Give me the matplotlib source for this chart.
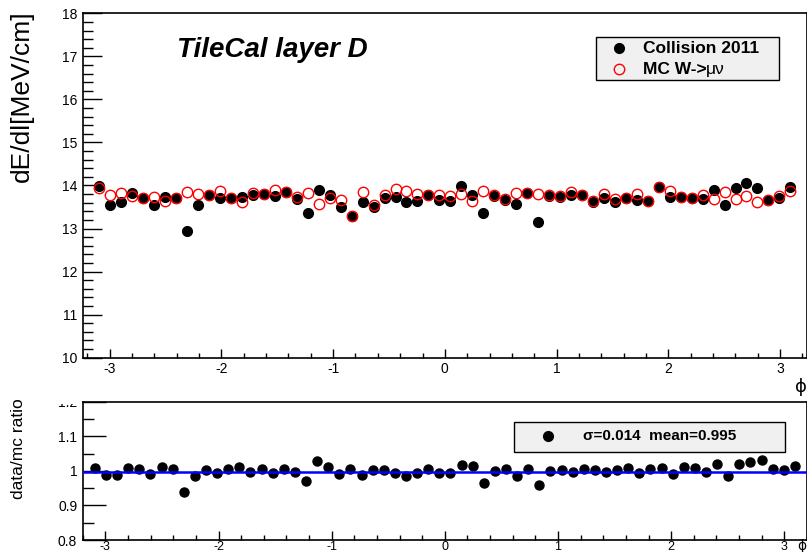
import matplotlib
matplotlib.use("Agg")
import numpy as np
import matplotlib.pyplot as plt
from matplotlib.patches import Rectangle
from matplotlib.ticker import MultipleLocator

plt.rcParams['font.family'] = ['Liberation Sans', 'DejaVu Sans']
plt.rcParams['axes.unicode_minus'] = False

# ======================
# data: 64 TileCal modules in phi
# ======================
n_modules = 64
phi = -np.pi + (np.arange(n_modules) + 0.5) * 2 * np.pi / n_modules

collision_2011 = [13.98, 13.55, 13.61, 13.82, 13.71, 13.54, 13.74, 13.71, 12.94, 13.54,
                  13.79, 13.70, 13.70, 13.74, 13.79, 13.80, 13.75, 13.84, 13.69, 13.36,
                  13.90, 13.78, 13.51, 13.28, 13.62, 13.51, 13.70, 13.74, 13.62, 13.65,
                  13.78, 13.67, 13.65, 13.99, 13.78, 13.37, 13.75, 13.67, 13.57, 13.82,
                  13.16, 13.75, 13.74, 13.78, 13.78, 13.61, 13.70, 13.62, 13.71, 13.67,
                  13.65, 13.96, 13.74, 13.74, 13.71, 13.69, 13.90, 13.55, 13.94, 14.06,
                  13.94, 13.67, 13.70, 13.96]

mc_wmunu = [13.95, 13.78, 13.82, 13.75, 13.71, 13.74, 13.65, 13.71, 13.84, 13.81,
            13.79, 13.87, 13.71, 13.62, 13.82, 13.80, 13.90, 13.84, 13.74, 13.82,
            13.57, 13.70, 13.67, 13.28, 13.84, 13.54, 13.78, 13.91, 13.87, 13.80,
            13.78, 13.78, 13.75, 13.80, 13.65, 13.88, 13.78, 13.69, 13.82, 13.82,
            13.80, 13.78, 13.75, 13.84, 13.78, 13.63, 13.80, 13.69, 13.72, 13.80,
            13.65, 13.96, 13.88, 13.74, 13.71, 13.78, 13.69, 13.84, 13.69, 13.76,
            13.61, 13.67, 13.76, 13.87]

ratio = [1.008, 0.988, 0.988, 1.008, 1.005, 0.990, 1.012, 1.006, 0.939, 0.984,
         1.003, 0.993, 1.006, 1.011, 0.997, 1.006, 0.993, 1.005, 0.997, 0.971,
         1.029, 1.012, 0.990, 1.005, 0.988, 1.002, 1.002, 0.993, 0.986, 0.993,
         1.005, 0.995, 0.995, 1.017, 1.013, 0.966, 1.000, 1.005, 0.986, 1.005,
         0.959, 1.000, 1.003, 0.997, 1.005, 1.002, 0.997, 1.002, 1.007, 0.995,
         1.005, 1.008, 0.992, 1.010, 1.007, 0.997, 1.021, 0.984, 1.021, 1.027,
         1.031, 1.005, 1.002, 1.015]
ratio_err = [0.008] * n_modules
fit_level = 0.997
sigma_txt = "σ=0.014  mean=0.995"

# ======================
# figure
# ======================
fig = plt.figure(figsize=(8.07, 5.52), dpi=100)
ax1 = fig.add_axes([0.1025, 0.352, 0.8975, 0.6239])
ax2 = fig.add_axes([0.1025, 0.0217, 0.8975, 0.2506])

# top panel
ax1.plot(phi, collision_2011, 'o', color='black', markersize=7, zorder=3)
ax1.plot(phi, mc_wmunu, 'o', markerfacecolor='none', markeredgecolor='red',
         markeredgewidth=1.0, markersize=7.5, zorder=4)
ax1.set_xlim(-np.pi - 0.1, np.pi + 0.1)
ax1.set_ylim(10, 18)
ax1.xaxis.set_major_locator(MultipleLocator(1))
ax1.xaxis.set_minor_locator(MultipleLocator(0.2))
ax1.yaxis.set_major_locator(MultipleLocator(1))
ax1.yaxis.set_minor_locator(MultipleLocator(0.2))
ax1.tick_params(axis='both', which='both', direction='in', top=False, right=False,
                labelsize=10, width=1)
ax1.tick_params(axis='y', which='major', length=14, pad=4)
ax1.tick_params(axis='y', which='minor', length=7)
ax1.tick_params(axis='x', which='major', length=6.5, pad=3)
ax1.tick_params(axis='x', which='minor', length=3.3)
for s in ax1.spines.values():
    s.set_linewidth(1.2)
ax1.text(0.9917, -0.085, "ϕ", transform=ax1.transAxes, fontsize=13,
         ha='center', va='center', family=['DejaVu Sans'])
ax1.text(0.130, 0.893, "TileCal layer D", transform=ax1.transAxes, fontsize=20,
         fontweight='bold', fontstyle='italic', ha='left', va='center')

# axis titles, ROOT style: aligned to the top end of the axis
fig.text(22 / 807, 1 - 10 / 552, "dE/dl[MeV/cm]", rotation=90, fontsize=19,
         ha='center', va='top')
fig.text(19 / 807, 1 - 398 / 552, "data/mc ratio", rotation=90, fontsize=12.5,
         ha='center', va='top')

# top legend
ax1.add_patch(Rectangle((0.7087, 0.806), 0.2526, 0.125, transform=ax1.transAxes,
                        facecolor='#f0f0f0', edgecolor='black', linewidth=1.0, zorder=5))
ax1.plot([0.7398], [0.899], 'o', color='black', markersize=7, transform=ax1.transAxes, zorder=6)
ax1.plot([0.7398], [0.838], 'o', markerfacecolor='none', markeredgecolor='red',
         markersize=7.5, transform=ax1.transAxes, zorder=6)
ax1.text(0.773, 0.899, "Collision 2011", transform=ax1.transAxes, fontsize=12.5,
         fontweight='bold', va='center', ha='left', zorder=7)
t_mc = ax1.text(0.773, 0.838, "MC W->", transform=ax1.transAxes, fontsize=12.5,
                fontweight='bold', va='center', ha='left', zorder=7)
ax1.annotate("μν", xy=(1, 0), xycoords=t_mc, fontsize=12.5, va='bottom', ha='left', zorder=7)

# bottom panel
ax2.errorbar(phi, ratio, yerr=ratio_err, fmt='o', color='black', markersize=6.5,
             elinewidth=1, capsize=0, zorder=3)
ax2.axhline(fit_level, color='#0000ff', linewidth=1.8, zorder=4)
ax2.set_xlim(-3.2, 3.2)
ax2.set_ylim(0.8, 1.2)
ax2.xaxis.set_major_locator(MultipleLocator(1))
ax2.xaxis.set_minor_locator(MultipleLocator(0.2))
ax2.yaxis.set_major_locator(MultipleLocator(0.1))
ax2.yaxis.set_minor_locator(MultipleLocator(0.05))
ax2.tick_params(axis='both', which='both', direction='in', top=False, right=False,
                labelsize=10, width=1)
ax2.tick_params(axis='y', which='major', length=16.5, pad=4)
ax2.tick_params(axis='y', which='minor', length=8)
ax2.tick_params(axis='x', which='major', length=6.5, pad=0.5, labelsize=9)
ax2.tick_params(axis='x', which='minor', length=3.5)
ax2.set_yticks([0.8, 0.9, 1.0, 1.1, 1.2])
ax2.set_yticklabels(["0.8", "0.9", "1", "1.1", "1.2"])
for s in ax2.spines.values():
    s.set_linewidth(1.2)
ax2.text(0.993, -0.045, "ϕ", transform=ax2.transAxes, fontsize=10,
         ha='center', va='center', family=['DejaVu Sans'])

# bottom legend
ax2.add_patch(Rectangle((0.5957, 0.636), 0.3739, 0.217, transform=ax2.transAxes,
                        facecolor='#f0f0f0', edgecolor='black', linewidth=1.0, zorder=5))
ax2.plot([0.642], [0.752], 'o', color='black', markersize=7, transform=ax2.transAxes, zorder=6)
ax2.text(0.6904, 0.752, sigma_txt, transform=ax2.transAxes, fontsize=11,
         fontweight='bold', va='center', ha='left', zorder=7)

# top pad hides the upper half of the "1.2" label (but not the axis title)
fig.add_artist(Rectangle((45 / 807, 1 - 404 / 552), 35 / 807, 19 / 552,
                         transform=fig.transFigure,
                         facecolor='white', edgecolor='none', zorder=10))

fig.savefig("out.png", dpi=100)
